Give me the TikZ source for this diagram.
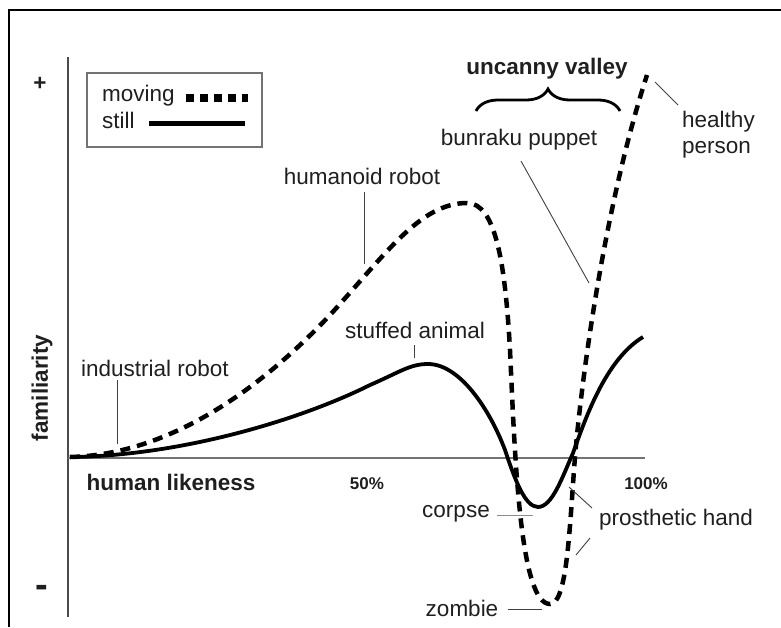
\documentclass[tikz,border=0pt]{standalone}
\usepackage{fontspec}
\setmainfont{Liberation Sans}
\usetikzlibrary{decorations.pathreplacing}

\tikzset{
	lbl/.style={inner sep=0pt, text=black!88, font=\fontsize{22.5}{26}\selectfont},
	boldlbl/.style={lbl, font=\fontsize{22.5}{26}\selectfont\bfseries},
	pctlbl/.style={inner sep=0pt, text=black!88, font=\fontsize{17}{20}\selectfont\bfseries},
	leader/.style={line width=0.9pt, black!75},
	movingline/.style={line width=4.5pt, dash pattern=on 10pt off 7pt},
	stillline/.style={line width=3.8pt}
}

\begin{document}
\begin{tikzpicture}[x=1pt, y=-1pt]
			\useasboundingbox (0,0) rectangle (781,627);
			% frame and axes
			\draw[line width=2.2pt] (9,627) -- (9,10) -- (781,10);
			\draw[line width=1.5pt, black!70] (68,57) -- (68,617);
			\draw[line width=1.3pt, black!55] (68,458) -- (645,458);
			\node[boldlbl] (plus) at (40,84) {+};
			\node[inner sep=0pt, text=black!88, font=\fontsize{38}{40}\selectfont\bfseries] (minus) at (42,591) {-};
			\node[boldlbl, rotate=90] (familiarity) at (42,388) {familiarity};
			\node[boldlbl] (likeness) at (171,482) {human likeness};
			\node[pctlbl] (half) at (367,484) {50\%};
			\node[pctlbl] (full) at (646,484) {100\%};

			% legend
			\draw[line width=1.2pt, black!55] (87,73) rectangle (262,147);
			\node[lbl, anchor=west] (moving) at (102,96) {moving};
			\node[lbl, anchor=west] (still) at (102,120) {still};
			\draw[line width=8pt, dash pattern=on 8pt off 6pt] (186,98) -- (248,98);
			\draw[line width=5pt] (149,123) -- (245,123);

			% moving curve
			\draw[movingline] (70,457)
				.. controls (160,455) and (250,400) .. (330,315)
				.. controls (385,255) and (420,203) .. (467,203)
				.. controls (495,203) and (505,260) .. (510,350)
				.. controls (515,460) and (520,604) .. (550,604)
				.. controls (566,604) and (569,540) .. (574,470)
				.. controls (578,410) and (600,220) .. (647,75);
			% still curve
			\draw[stillline] (70,457)
				.. controls (180,456) and (300,420) .. (370,385)
				.. controls (400,372) and (410,364) .. (428,364)
				.. controls (460,364) and (490,410) .. (505,450)
				.. controls (515,480) and (525,507) .. (538,507)
				.. controls (552,507) and (562,478) .. (573,453)
				.. controls (585,420) and (605,360) .. (643,337);

			% labels
			\node[boldlbl] (valley) at (547,69) {uncanny valley};
			\draw[decorate, decoration={brace, amplitude=22pt}, line width=2.8pt] (476,111) -- (620,111);
			\node[lbl, anchor=west, align=left] (healthy) at (682,135) {healthy\\person};
			\node[lbl] (bunraku) at (519,140) {bunraku puppet};
			\node[lbl] (humanoid) at (362,176) {humanoid robot};
			\node[lbl] (stuffed) at (415,330) {stuffed animal};
			\node[lbl] (industrial) at (155,368) {industrial robot};
			\node[lbl] (corpse) at (456,514) {corpse};
			\node[lbl] (prosthetic) at (676,520) {prosthetic hand};
			\node[lbl] (zombie) at (462,608) {zombie};

			% leader lines
			\coordinate (healthytip) at (655,82);
			\coordinate (healthyend) at (678,105);
			\coordinate (bunrakutip) at (589,283);
			\coordinate (bunrakuend) at (521,161);
			\coordinate (humanoidtip) at (364,264);
			\coordinate (humanoidend) at (364,192);
			\coordinate (stuffedtip) at (414,358);
			\coordinate (stuffedend) at (414,345);
			\coordinate (industrialtip) at (117,444);
			\coordinate (industrialend) at (117,380);
			\coordinate (corpsetip) at (533,515);
			\coordinate (corpseend) at (497,515);
			\coordinate (handtipa) at (569,487);
			\coordinate (handenda) at (592,508);
			\coordinate (handtipb) at (576,555);
			\coordinate (handendb) at (590,538);
			\coordinate (zombietip) at (542,609);
			\coordinate (zombieend) at (508,609);
			\draw[leader] (healthyend) -- (healthytip);
			\draw[leader] (bunrakuend) -- (bunrakutip);
			\draw[leader] (humanoidend) -- (humanoidtip);
			\draw[leader] (stuffedend) -- (stuffedtip);
			\draw[leader] (industrialend) -- (industrialtip);
			\draw[leader, black!45] (corpseend) -- (corpsetip);
			\draw[leader] (handenda) -- (handtipa);
			\draw[leader] (handendb) -- (handtipb);
			\draw[leader] (zombieend) -- (zombietip);
		\end{tikzpicture}
\end{document}
